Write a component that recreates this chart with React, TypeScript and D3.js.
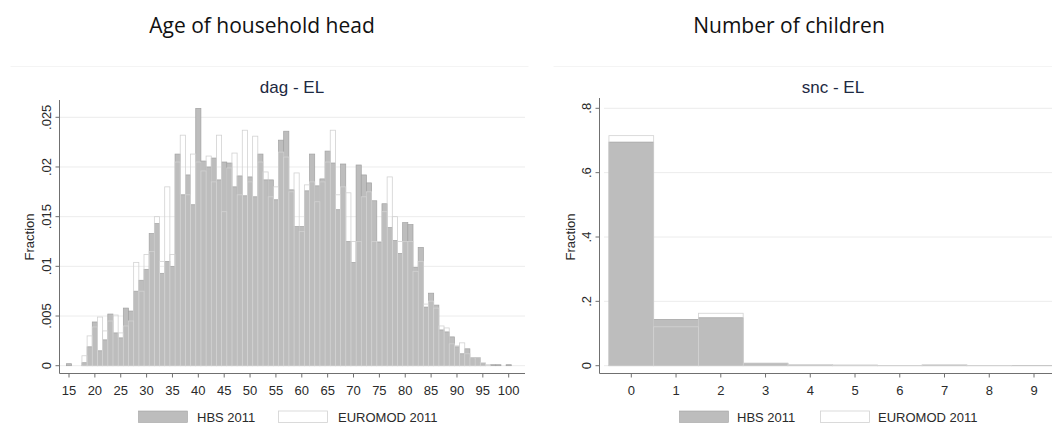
import React from "react";
import * as d3 from "d3";

// ---------- DATA ----------
const ages = d3.range(15, 101);
const hbsAge = [
  0.0002, 0, 0, 0.0003, 0.0019, 0.0044, 0.0015, 0.0026, 0.0052, 0.0033,
  0.0028, 0.0058, 0.0055, 0.0075, 0.0086, 0.0097, 0.0133, 0.0143, 0.0093, 0.0105,
  0.01, 0.0213, 0.0172, 0.0192, 0.0162, 0.0259, 0.0206, 0.02, 0.0209, 0.0187,
  0.0205, 0.0204, 0.018, 0.0191, 0.0171, 0.019, 0.017, 0.0213, 0.0187, 0.0187,
  0.0167, 0.0227, 0.0236, 0.0177, 0.014, 0.014, 0.0176, 0.0213, 0.0181, 0.0188,
  0.0216, 0.0204, 0.0157, 0.0203, 0.0125, 0.0104, 0.0202, 0.0192, 0.0184, 0.0166,
  0.0124, 0.0163, 0.0139, 0.0126, 0.0113, 0.0144, 0.0142, 0.0099, 0.0119, 0.0059,
  0.0073, 0.0061, 0.0036, 0.0034, 0.0029, 0.0019, 0.0012, 0.0017, 0.0008, 0.0008,
  0.0002, 0, 0.0001, 0.0001, 0, 0.0001,
];
const euromodAge = [
  0, 0, 0, 0.001, 0.003, 0.0039, 0.0049, 0.0035, 0.0045, 0.0051,
  0.0033, 0.004, 0.0045, 0.0104, 0.0075, 0.0112, 0.0115, 0.015, 0.0105, 0.018,
  0.0112, 0.0205, 0.0232, 0.0172, 0.0213, 0.0205, 0.0196, 0.0211, 0.0185, 0.0232,
  0.0155, 0.0199, 0.0214, 0.0172, 0.0237, 0.0185, 0.0231, 0.0205, 0.0195, 0.017,
  0.018, 0.0215, 0.021, 0.0175, 0.0194, 0.0135, 0.0182, 0.0185, 0.0165, 0.0185,
  0.0205, 0.0237, 0.0172, 0.018, 0.0174, 0.0125, 0.0125, 0.017, 0.0175, 0.0125,
  0.0125, 0.0155, 0.019, 0.015, 0.0125, 0.0125, 0.0125, 0.0095, 0.0105, 0.0062,
  0.0065, 0.0058, 0.004, 0.0038, 0.0022, 0.002, 0.0023, 0.0012, 0.0008, 0.0008,
  0.0003, 0.0001, 0, 0, 0, 0,
];
const ageTicks = d3.range(15, 101, 5);
const ageYTicks = [0, 0.005, 0.01, 0.015, 0.02, 0.025];
const ageYLabels = ["0", ".005", ".01", ".015", ".02", ".025"];

const children = d3.range(0, 10);
const hbsChildren = [0.695, 0.144, 0.149, 0.0075, 0.002, 0.0015, 0.001, 0.0015, 0.0005, 0.0003];
const euromodChildren = [0.715, 0.121, 0.163, 0.008, 0.003, 0.002, 0.0008, 0.003, 0.0005, 0.0003];
const childYTicks = [0, 0.2, 0.4, 0.6, 0.8];
const childYLabels = ["0", ".2", ".4", ".6", ".8"];

const seriesNames = ["HBS 2011", "EUROMOD 2011"];
const headings = ["Age of household head", "Number of children"];
const subTitles = ["dag - EL", "snc - EL"];

// ---------- STYLE ----------
const W = 1052;
const H = 437;
const font = "'Liberation Sans', Arial, sans-serif";
const hbsFill = "#bdbdbd";
const hbsStroke = "#a2a2a2";
const emStroke = "#d2d2d2";
const gridColor = "#ececec";
const axisColor = "#707070";
const textColor = "#2a2a2a";
const titleColor = "#1d2942";

type PanelProps = {
  x: d3.ScaleLinear<number, number>;
  y: d3.ScaleLinear<number, number>;
  cats: number[];
  hbs: number[];
  em: number[];
  xTicks: number[];
  yTicks: number[];
  yLabels: string[];
  heading: string;
  headingX: number;
  sub: string;
  subX: number;
  fracX: number;
  ylabX: number;
  gridX1: number;
  gridX2: number;
  legend: { s1: number; t1: number; s2: number; t2: number };
  frame: [number, number];
};

function Panel(p: PanelProps) {
  const [x0, x1] = p.x.range();
  const [, yt] = p.y.range();
  const axisY = 373.5;
  const axisX = x0;
  return (
    <g>
      <line x1={p.frame[0]} x2={p.frame[1]} y1={66.5} y2={66.5} stroke="#f4f4f4" />
      <text x={p.headingX} y={33} textAnchor="middle" fontFamily="'Open Sans', sans-serif" fontSize={21} fill="#111">
        {p.heading}
      </text>
      <text x={p.subX} y={93} textAnchor="middle" fontFamily={font} fontSize={17} fill={titleColor}>
        {p.sub}
      </text>
      {/* grid */}
      {p.yTicks.map((t) => (
        <line key={"g" + t} x1={p.gridX1} x2={p.gridX2} y1={p.y(t)} y2={p.y(t)} stroke={gridColor} strokeWidth={1} />
      ))}
      {/* HBS bars */}
      {p.cats.map((c, i) =>
        p.hbs[i] > 0 ? (
          <rect
            key={"h" + c}
            x={p.x(c - 0.5)}
            y={p.y(p.hbs[i])}
            width={p.x(c + 0.5) - p.x(c - 0.5)}
            height={p.y(0) - p.y(p.hbs[i])}
            fill={hbsFill}
            stroke={hbsStroke}
            strokeWidth={0.7}
          />
        ) : null
      )}
      {/* EUROMOD bars (outline) */}
      {p.cats.map((c, i) =>
        p.em[i] > 0 ? (
          <rect
            key={"e" + c}
            x={p.x(c - 0.5)}
            y={p.y(p.em[i])}
            width={p.x(c + 0.5) - p.x(c - 0.5)}
            height={p.y(0) - p.y(p.em[i])}
            fill="none"
            stroke={emStroke}
            strokeWidth={0.8}
          />
        ) : null
      )}
      {/* y axis */}
      <line x1={axisX} x2={axisX} y1={yt} y2={axisY} stroke={axisColor} strokeWidth={1} />
      {p.yTicks.map((t, i) => (
        <g key={"yt" + t}>
          <line x1={axisX - 4} x2={axisX} y1={p.y(t)} y2={p.y(t)} stroke={axisColor} />
          <text
            transform={`translate(${p.ylabX},${p.y(t)}) rotate(-90)`}
            textAnchor="middle"
            dominantBaseline="central"
            fontFamily={font}
            fontSize={13}
            fill={textColor}
          >
            {p.yLabels[i]}
          </text>
        </g>
      ))}
      <text
        transform={`translate(${p.fracX},237) rotate(-90)`}
        textAnchor="middle"
        dominantBaseline="central"
        fontFamily={font}
        fontSize={13}
        fill={textColor}
      >
        Fraction
      </text>
      {/* x axis */}
      <line x1={x0} x2={x1} y1={axisY} y2={axisY} stroke={axisColor} strokeWidth={1} />
      {p.xTicks.map((t) => (
        <g key={"xt" + t}>
          <line x1={p.x(t)} x2={p.x(t)} y1={axisY} y2={axisY + 4} stroke={axisColor} />
          <text x={p.x(t)} y={395} textAnchor="middle" fontFamily={font} fontSize={13} fill={textColor}>
            {t}
          </text>
        </g>
      ))}
      {/* legend */}
      <rect x={p.legend.s1} y={411} width={49} height={11.5} fill={hbsFill} stroke={hbsStroke} strokeWidth={0.6} />
      <text x={p.legend.t1} y={422} fontFamily={font} fontSize={13} fill={textColor}>
        {seriesNames[0]}
      </text>
      <rect x={p.legend.s2} y={411} width={49} height={11.5} fill="#fff" stroke={emStroke} strokeWidth={0.8} />
      <text x={p.legend.t2} y={422} fontFamily={font} fontSize={13} fill={textColor}>
        {seriesNames[1]}
      </text>
    </g>
  );
}

export default function App() {
  // left panel scales
  const xAge = d3.scaleLinear().domain([15, 100]).range([69, 508.7]);
  const xAgeFull = d3
    .scaleLinear()
    .domain([xAge.invert(59.5), xAge.invert(525)])
    .range([59.5, 525]);
  const yAge = d3.scaleLinear().domain([0, 0.025]).range([365.7, 117.3]);
  const yAgeFull = d3
    .scaleLinear()
    .domain([0, yAge.invert(100)])
    .range([365.7, 100]);

  // right panel scales
  const xCh = d3.scaleLinear().domain([0, 9]).range([631.3, 1034]);
  const xChFull = d3
    .scaleLinear()
    .domain([xCh.invert(599.5), xCh.invert(1052)])
    .range([599.5, 1052]);
  const yCh = d3.scaleLinear().domain([0, 0.8]).range([365.7, 108.3]);
  const yChFull = d3
    .scaleLinear()
    .domain([0, yCh.invert(98)])
    .range([365.7, 98]);

  return (
    <svg width={W} height={H} style={{ position: "absolute", left: 0, top: 0, background: "#fff" }}>
      <rect width={W} height={H} fill="#fff" />
      <Panel
        x={xAgeFull}
        y={yAgeFull}
        cats={ages}
        hbs={hbsAge}
        em={euromodAge}
        xTicks={ageTicks}
        yTicks={ageYTicks}
        yLabels={ageYLabels}
        heading={headings[0]}
        headingX={262}
        sub={subTitles[0]}
        subX={292}
        fracX={29}
        ylabX={46}
        gridX1={60}
        gridX2={525}
        legend={{ s1: 138.5, t1: 197, s2: 278.5, t2: 338 }}
        frame={[10.5, 528.5]}
      />
      <Panel
        x={xChFull}
        y={yChFull}
        cats={children}
        hbs={hbsChildren}
        em={euromodChildren}
        xTicks={children}
        yTicks={childYTicks}
        yLabels={childYLabels}
        heading={headings[1]}
        headingX={789}
        sub={subTitles[1]}
        subX={833}
        fracX={570}
        ylabX={586}
        gridX1={604}
        gridX2={1052}
        legend={{ s1: 679.5, t1: 737, s2: 820.5, t2: 878 }}
        frame={[553.5, 1052]}
      />
    </svg>
  );
}
